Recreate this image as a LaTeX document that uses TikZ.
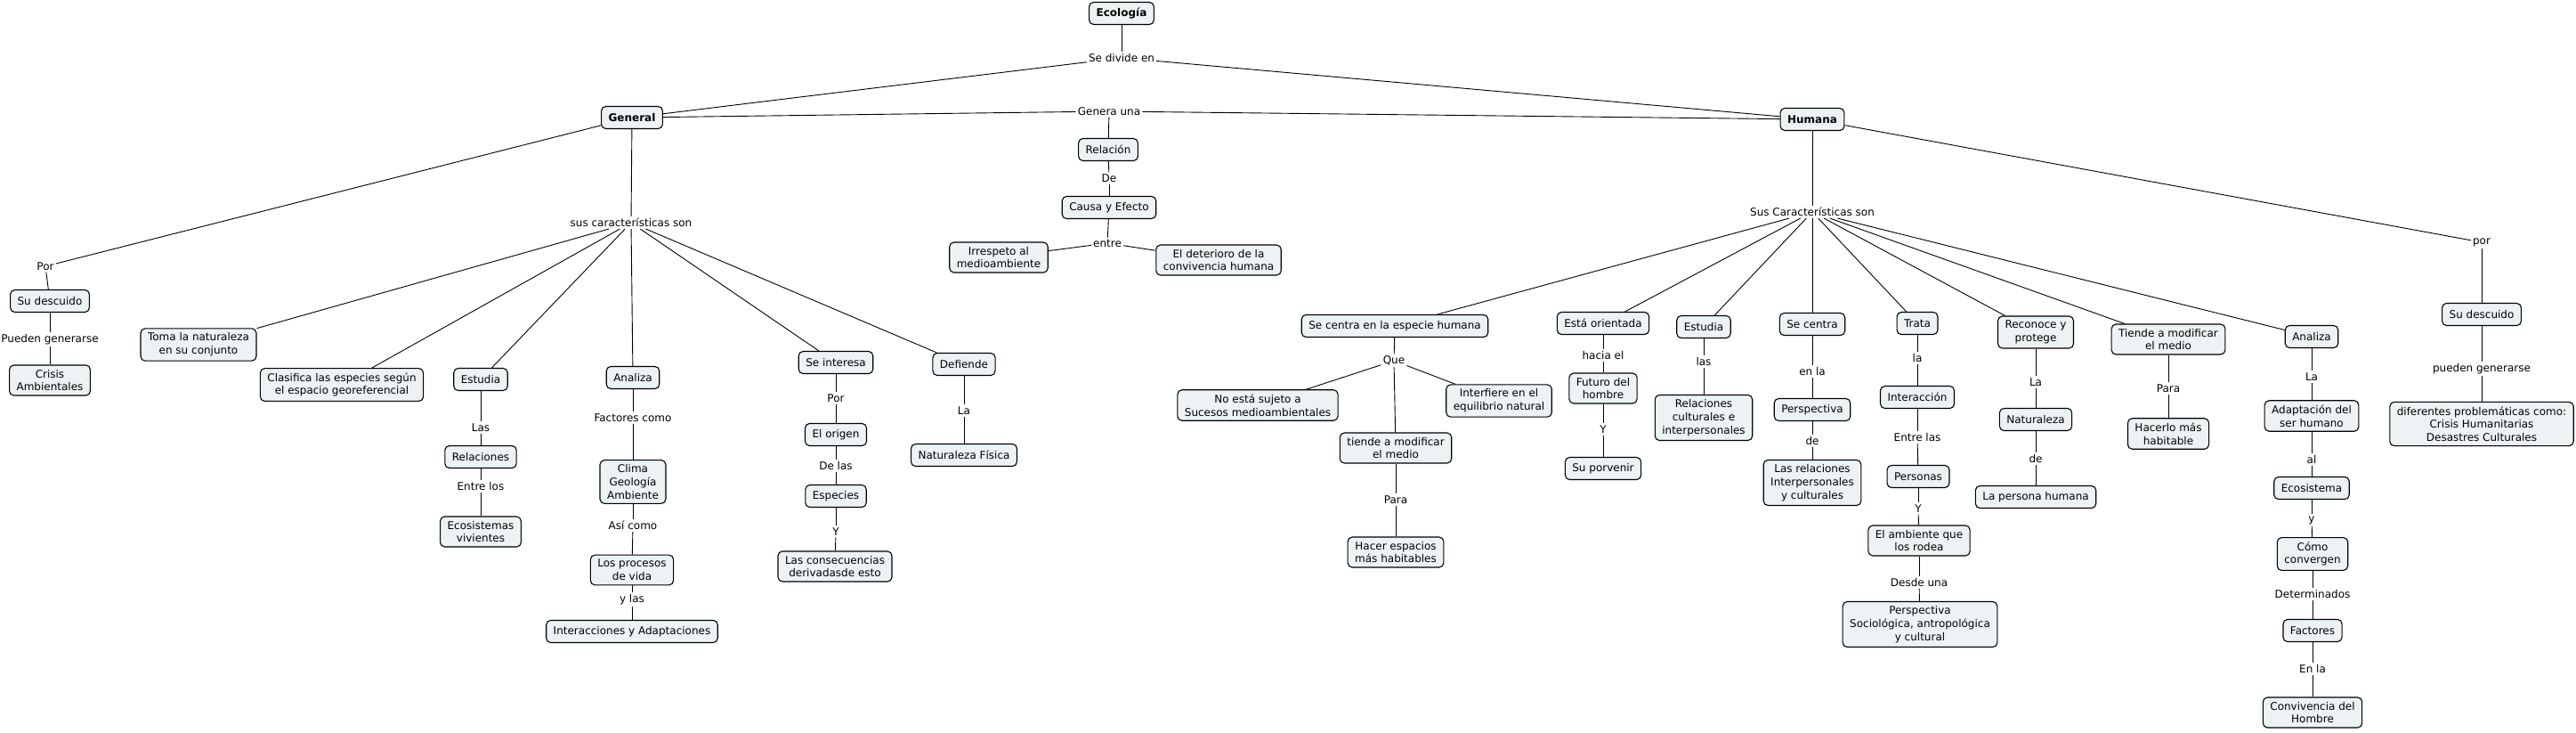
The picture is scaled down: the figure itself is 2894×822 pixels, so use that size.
\documentclass[tikz,border=0pt]{standalone}
\usepackage{fontspec}
\setmainfont{DejaVu Sans}
\usetikzlibrary{calc}

\definecolor{cmapfill}{RGB}{237,243,245}
\newcommand{\cmapfont}{\fontsize{12}{14.7}\selectfont}

\tikzset{
  concept/.style={draw, rounded corners=5pt, fill=cmapfill, align=center,
    line width=1.1pt, inner xsep=8pt, inner ysep=5pt, minimum height=25pt, font=\cmapfont},
  linkword/.style={inner sep=2pt, font=\cmapfont},
  link/.style={line width=0.9pt},
}

\begin{document}
\begin{tikzpicture}[x=1pt,y=-1pt]
    \useasboundingbox (0,0) rectangle (2894,822);

    % Top
    \node[concept] (ecologia) at (1260,15) {\textbf{Ecología}};
    \node[linkword] (divide) at (1260,65) {Se divide en};
    \node[concept] (general) at (710,132) {\textbf{General}};
    \node[concept] (humana) at (2036,134) {\textbf{Humana}};

    % Middle: relacion
    \node[linkword] (genera) at (1246,125) {Genera una};
    \node[concept] (relacion) at (1245,168) {Relación};
    \node[linkword] (de) at (1246,200) {De};
    \node[concept] (causa) at (1246,233) {Causa y Efecto};
    \node[linkword] (entre) at (1244,273) {entre};
    \node[concept] (irrespeto) at (1122,289) {Irrespeto al\\medioambiente};
    \node[concept] (deterioro) at (1369,292) {El deterioro de la\\convivencia humana};

    % General
    \node[linkword] (porG) at (51,299) {Por};
    \node[concept] (descuidoG) at (56,338) {Su descuido};
    \node[linkword] (puedenG) at (56,381) {Pueden generarse};
    \node[concept] (crisisG) at (56,427) {Crisis\\Ambientales};

    \node[linkword] (caracG) at (709,250) {sus características son};
    \node[concept] (toma) at (223,387) {Toma la naturaleza\\en su conjunto};
    \node[concept] (clasifica) at (384,432) {Clasifica las especies según\\el espacio georeferencial};

    \node[concept] (estudiaG) at (540,426) {Estudia};
    \node[linkword] (lasG) at (540,480) {Las};
    \node[concept] (relacionesG) at (540,513) {Relaciones};
    \node[linkword] (entrelos) at (540,546) {Entre los};
    \node[concept] (ecosistemas) at (540,597) {Ecosistemas\\vivientes};

    \node[concept] (analizaG) at (711,424) {Analiza};
    \node[linkword] (factores) at (711,469) {Factores como};
    \node[concept] (clima) at (711,541) {Clima\\Geología\\Ambiente};
    \node[linkword] (asicomo) at (711,590) {Así como};
    \node[concept] (procesos) at (710,640) {Los procesos\\de vida};
    \node[linkword] (ylas) at (710,673) {y las};
    \node[concept] (interacciones) at (710,709) {Interacciones y Adaptaciones};

    \node[concept] (interesa) at (939,407) {Se interesa};
    \node[linkword] (porI) at (939,447) {Por};
    \node[concept] (origen) at (939,488) {El origen};
    \node[linkword] (delas) at (939,523) {De las};
    \node[concept] (especies) at (939,557) {Especies};
    \node[linkword] (yE) at (939,597) {Y};
    \node[concept] (consecuencias) at (938,636) {Las consecuencias\\derivadasde esto};

    \node[concept] (defiende) at (1083,409) {Defiende};
    \node[linkword] (laF) at (1083,461) {La};
    \node[concept] (natfisica) at (1083,511) {Naturaleza Física};

    % Humana
    \node[linkword] (caracH) at (2036,238) {Sus Características son};
    \node[linkword] (porH) at (2788,272) {por};
    \node[concept] (descuidoH) at (2788,353) {Su descuido};
    \node[linkword] (puedenH) at (2788,414) {pueden generarse};
    \node[concept] (problemas) at (2788,476) {diferentes problemáticas como:\\Crisis Humanitarias\\Desastres Culturales};

    \node[concept] (centraEsp) at (1567,366) {Se centra en la especie humana};
    \node[linkword] (que) at (1566,405) {Que};
    \node[concept] (nosujeto) at (1413,455) {No está sujeto a\\Sucesos medioambientales};
    \node[concept] (interfiere) at (1684,450) {Interfiere en el\\equilibrio natural};
    \node[concept] (tiendeE) at (1568,503) {tiende a modificar\\el medio};
    \node[linkword] (paraE) at (1568,561) {Para};
    \node[concept] (espacios) at (1568,620) {Hacer espacios\\más habitables};

    \node[concept] (orientada) at (1801,363) {Está orientada};
    \node[linkword] (hacia) at (1801,399) {hacia el};
    \node[concept] (futuro) at (1801,436) {Futuro del\\hombre};
    \node[linkword] (yF) at (1801,482) {Y};
    \node[concept] (porvenir) at (1801,526) {Su porvenir};

    \node[concept] (estudiaH) at (1914,367) {Estudia};
    \node[linkword] (lasH) at (1914,406) {las};
    \node[concept] (relcult) at (1914,469) {Relaciones\\culturales e\\interpersonales};

    \node[concept] (centra) at (2036,364) {Se centra};
    \node[linkword] (enla) at (2036,417) {en la};
    \node[concept] (perspectiva) at (2036,460) {Perspectiva};
    \node[linkword] (deP) at (2036,495) {de};
    \node[concept] (relinter) at (2036,542) {Las relaciones\\Interpersonales\\y culturales};

    \node[concept] (trata) at (2154,363) {Trata};
    \node[linkword] (laT) at (2154,402) {la};
    \node[concept] (interaccion) at (2154,446) {Interacción};
    \node[linkword] (entrelas) at (2154,491) {Entre las};
    \node[concept] (personas) at (2155,535) {Personas};
    \node[linkword] (yP) at (2155,571) {Y};
    \node[concept] (ambiente) at (2156,607) {El ambiente que\\los rodea};
    \node[linkword] (desde) at (2156,654) {Desde una};
    \node[concept] (sociologica) at (2157,701) {Perspectiva\\Sociológica, antropológica\\y cultural};

    \node[concept] (reconoce) at (2287,373) {Reconoce y\\protege};
    \node[linkword] (laN) at (2287,429) {La};
    \node[concept] (naturaleza) at (2287,471) {Naturaleza};
    \node[linkword] (deN) at (2287,515) {de};
    \node[concept] (persona) at (2287,558) {La persona humana};

    \node[concept] (tiende) at (2436,381) {Tiende a modificar\\el medio};
    \node[linkword] (paraT) at (2436,436) {Para};
    \node[concept] (habitable) at (2436,487) {Hacerlo más\\habitable};

    \node[concept] (analizaH) at (2597,378) {Analiza};
    \node[linkword] (laA) at (2597,423) {La};
    \node[concept] (adaptacion) at (2597,467) {Adaptación del\\ser humano};
    \node[linkword] (al) at (2597,516) {al};
    \node[concept] (ecosistema) at (2597,548) {Ecosistema};
    \node[linkword] (yC) at (2597,584) {y};
    \node[concept] (convergen) at (2598,622) {Cómo\\convergen};
    \node[linkword] (determinados) at (2598,667) {Determinados};
    \node[concept] (factoresH) at (2598,708) {Factores};
    \node[linkword] (enlaF) at (2598,751) {En la};
    \node[concept] (convivencia) at (2598,800) {Convivencia del\\Hombre};

    % Links
    \foreach \a/\b in {ecologia/divide, divide/general, divide/humana,
        general/genera, genera/humana, genera/relacion, relacion/de, de/causa,
        causa/entre, entre/irrespeto, entre/deterioro,
        general/porG, porG/descuidoG, descuidoG/puedenG, puedenG/crisisG,
        general/caracG,
        estudiaG/lasG, lasG/relacionesG, relacionesG/entrelos, entrelos/ecosistemas,
        analizaG/factores, factores/clima, clima/asicomo, asicomo/procesos, procesos/ylas, ylas/interacciones,
        interesa/porI, porI/origen, origen/delas, delas/especies, especies/yE, yE/consecuencias,
        defiende/laF, laF/natfisica}
        \draw[link] (\a) -- (\b);

    \foreach \b in {toma,clasifica,estudiaG,analizaG,interesa,defiende}
        \draw[link] (caracG) -- (\b);

    \foreach \b in {centraEsp,orientada,estudiaH,centra,trata,reconoce,tiende,analizaH}
        \draw[link] (caracH) -- (\b);

    \foreach \a/\b in {humana/caracH, humana/porH, porH/descuidoH, descuidoH/puedenH, puedenH/problemas,
        centraEsp/que, que/nosujeto, que/interfiere, que/tiendeE, tiendeE/paraE, paraE/espacios,
        orientada/hacia, hacia/futuro, futuro/yF, yF/porvenir,
        estudiaH/lasH, lasH/relcult,
        centra/enla, enla/perspectiva, perspectiva/deP, deP/relinter,
        trata/laT, laT/interaccion, interaccion/entrelas, entrelas/personas, personas/yP, yP/ambiente,
        ambiente/desde, desde/sociologica,
        reconoce/laN, laN/naturaleza, naturaleza/deN, deN/persona,
        tiende/paraT, paraT/habitable,
        analizaH/laA, laA/adaptacion, adaptacion/al, al/ecosistema, ecosistema/yC, yC/convergen,
        convergen/determinados, determinados/factoresH, factoresH/enlaF, enlaF/convivencia}
        \draw[link] (\a) -- (\b);
\end{tikzpicture}
\end{document}
